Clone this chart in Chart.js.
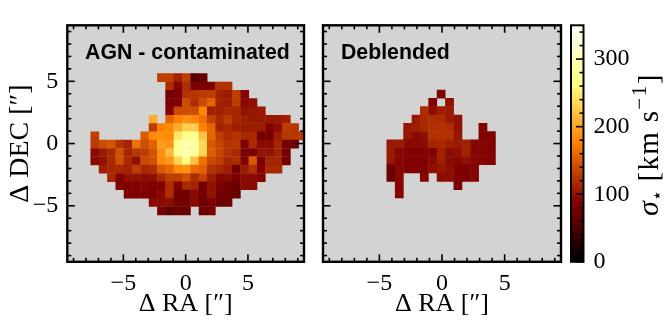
<!DOCTYPE html>
<html>
<head>
<meta charset="utf-8">
<script src="https://cdn.jsdelivr.net/npm/chart.js@4/dist/chart.umd.min.js"></script>
<style>
    html, body { margin: 0; padding: 0; background: #fff; overflow: hidden; }
    canvas { position: absolute; top: 0; }
</style>
</head>
<body>
<canvas id="agnChart" width="314" height="320" style="left:0"></canvas>
<canvas id="deblendedChart" width="252" height="320" style="left:314px"></canvas>
<canvas id="colorbarChart" width="105" height="320" style="left:566px"></canvas>
<script>
const _ = null;

// Spaxel centres in arcsec
const agnRa = [-7.29, -6.62, -5.95, -5.28, -4.62, -3.95, -3.28, -2.61, -1.94, -1.28, -0.61, 0.06, 0.73, 1.40, 2.06, 2.73, 3.40, 4.07, 4.74, 5.40, 6.07, 6.74, 7.41, 8.08, 8.74, 9.41];
const agnDec = [5.29, 4.62, 3.95, 3.29, 2.62, 1.95, 1.28, 0.61, -0.05, -0.72, -1.39, -2.06, -2.73, -3.39, -4.06, -4.73, -5.40];
const deblendedRa = [-4.08, -3.41, -2.74, -2.07, -1.41, -0.74, -0.07, 0.60, 1.27, 1.93, 2.60, 3.27, 3.94];
const deblendedDec = [3.97, 3.31, 2.64, 1.97, 1.30, 0.63, -0.03, -0.70, -1.37, -2.04, -2.71, -3.37, -4.04];

// Stellar velocity dispersion in km/s
const agnSigma = [
    [_, _, _, _, _, _, _, _, 130, 130, 110, 130, 56, 71, _, _, _, _, _, _, _, _, _, _, _, _],
    [_, _, _, _, _, _, _, _, _, 118, 91, 118, 84, 84, 86, 121, 121, _, _, _, _, _, _, _, _, _],
    [_, _, _, _, _, _, _, _, _, 78, 84, 121, 123, 128, 128, 110, 106, 130, 91, _, _, _, _, _, _, _],
    [_, _, _, _, _, _, _, _, _, 86, 86, 140, 118, 138, 155, 110, 108, 128, 94, 98, _, _, _, _, _, _],
    [_, _, _, _, _, _, _, _, _, 91, 138, 140, 140, 180, 108, 108, 115, 113, 100, 103, 104, _, _, _, _, _],
    [_, _, _, _, _, _, _, 205, _, 155, 175, 185, 178, 165, 132, 115, 128, 113, 108, 104, 104, 104, 104, 109, _, _],
    [_, _, _, _, _, _, _, 128, 175, 182, 205, 228, 228, 175, 158, 110, 115, 108, 106, 106, 106, 88, 96, 128, 125, _],
    [130, _, _, _, _, _, 150, 182, 185, 182, 245, 270, 270, 222, 158, 130, 118, 123, 115, 115, 78, 81, 108, 125, 125, 130],
    [128, 140, 145, 121, 113, 165, 140, 155, 195, 188, 275, 295, 285, 235, 148, 135, 123, 125, 88, 115, 94, 94, 113, 81, 76, _],
    [94, 106, 115, 142, 113, 125, 128, 145, 185, 215, 275, 295, 285, 232, 152, 135, 121, 115, 86, 86, 100, 100, 110, 81, _, _],
    [94, 100, 115, 142, 115, 98, 138, 145, 182, 190, 232, 268, 220, 165, 138, 130, 115, 118, 88, 148, 84, 113, 113, 81, _, _],
    [_, 108, 115, 115, 110, 130, 115, 118, 148, 158, 182, 185, 160, 155, 121, 115, 108, 81, 106, 121, 88, 115, 115, _, _, _],
    [_, _, 115, 88, 100, 100, 96, 98, 115, 130, 130, 142, 118, 135, 108, 91, 94, 84, 96, 94, 91, _, _, _, _, _],
    [_, _, _, 88, 88, 88, 91, 86, 88, 118, 88, 115, 110, 78, 100, 88, 78, 74, 94, 94, _, _, _, _, _, _],
    [_, _, _, _, 88, 84, 88, 84, 94, 118, 76, 78, 94, 78, 100, 78, 76, 71, _, _, _, _, _, _, _, _],
    [_, _, _, _, _, _, _, 94, 94, 96, 78, 78, 94, 74, 88, 76, 76, _, _, _, _, _, _, _, _, _],
    [_, _, _, _, _, _, _, _, 84, 66, 76, 71, _, 74, 82, _, _, _, _, _, _, _, _, _, _, _]
];
const deblendedSigma = [
    [_, _, _, _, _, _, 88, _, _, _, _, _, _],
    [_, _, _, _, _, 88, _, 98, _, _, _, _, _],
    [_, _, _, _, 118, 96, 108, 104, _, _, _, _, _],
    [_, _, _, 104, 115, 118, 118, 104, 100, _, _, _, _],
    [_, _, 103, 108, 115, 121, 121, 118, 100, _, _, 88, _],
    [_, _, 103, 94, 98, 121, 121, 121, 103, _, _, 88, 88],
    [106, 106, 94, 94, 96, 113, 115, 108, 106, 110, 91, 91, 88],
    [106, 92, 88, 88, 88, 88, 110, 94, 98, 110, 91, 91, 88],
    [103, 92, 88, 88, 88, 94, 108, 94, 92, 98, 91, 91, 88],
    [74, 92, 88, 86, 88, 98, 102, 98, 86, 86, 90, _, _],
    [74, 92, _, _, 90, _, 96, 96, 86, 86, 90, _, _],
    [_, 92, _, _, _, _, _, _, 86, _, _, _, _],
    [_, 92, _, _, _, _, _, _, _, _, _, _, _]
];

// Axis settings
const skyTicks = [-9, -8, -7, -6, -5, -4, -3, -2, -1, 0, 1, 2, 3, 4, 5, 6, 7, 8, 9];
const skyMin = -9.5;
const skyMax = 9.5;
const sigmaMin = 0;
const sigmaMax = 350;
const spaxelSize = 0.668;

// afmhot colour map nodes
const cmapPositions = [0, 0.25, 0.5, 0.75, 1];
const cmapColors = [[0, 0, 0], [128, 0, 0], [255, 128, 0], [255, 255, 128], [255, 255, 255]];

const serifFont = '"Liberation Serif", serif';
const tickFont = { family: serifFont, size: 24 };

function sigmaColor(value) {
    const t = Math.min(1, Math.max(0, (value - sigmaMin) / (sigmaMax - sigmaMin)));
    let i = 0;
    while (i < cmapPositions.length - 2 && t > cmapPositions[i + 1]) i++;
    const f = (t - cmapPositions[i]) / (cmapPositions[i + 1] - cmapPositions[i]);
    const c = cmapColors[i].map((v, k) => Math.round(v + (cmapColors[i + 1][k] - v) * f));
    return `rgb(${c[0]}, ${c[1]}, ${c[2]})`;
}

function buildPoints(raBins, decBins, matrix) {
    const points = [];
    matrix.forEach((row, j) => {
        row.forEach((value, i) => {
            if (value !== null) points.push({ x: raBins[i], y: decBins[j], v: value });
        });
    });
    return points;
}

function fiveLabels(value) {
    if (value % 5 !== 0) return '';
    return value < 0 ? `\u2212${Math.abs(value)}` : `${value}`;
}

// Inward tick marks along one axis edge
function drawTicks(ctx, scale, edges, majorEvery, majorLen, minorLen) {
    scale.ticks.forEach(tick => {
        const pos = scale.getPixelForValue(tick.value);
        const len = tick.value % majorEvery === 0 ? majorLen : minorLen;
        edges.forEach(([from, dir]) => {
            ctx.beginPath();
            if (scale.isHorizontal()) {
                ctx.moveTo(pos, from);
                ctx.lineTo(pos, from + dir * len);
            } else {
                ctx.moveTo(from, pos);
                ctx.lineTo(from + dir * len, pos);
            }
            ctx.stroke();
        });
    });
}

// Grey background behind the spaxels
const panelBackground = {
    id: 'panelBackground',
    beforeDatasetsDraw(chart) {
        const { ctx, chartArea: a } = chart;
        ctx.save();
        ctx.fillStyle = '#d3d3d3';
        ctx.fillRect(a.left, a.top, a.right - a.left, a.bottom - a.top);
        ctx.restore();
    }
};

// Frame, ticks and the label inside each map panel
const panelFrame = {
    id: 'panelFrame',
    afterDatasetsDraw(chart, args, opts) {
        const { ctx, chartArea: a, scales } = chart;
        ctx.save();
        ctx.strokeStyle = '#000';
        ctx.lineWidth = 1.6;
        drawTicks(ctx, scales.x, [[a.bottom, -1], [a.top, 1]], 5, 7.5, 4);
        drawTicks(ctx, scales.y, [[a.left, 1], [a.right, -1]], 5, 7.5, 4);
        ctx.lineWidth = 2.4;
        ctx.strokeRect(a.left, a.top, a.right - a.left, a.bottom - a.top);
        ctx.fillStyle = '#000';
        ctx.font = 'bold 21.3px "Liberation Sans", sans-serif';
        ctx.textBaseline = 'middle';
        ctx.fillText(opts.text, scales.x.getPixelForValue(opts.x), scales.y.getPixelForValue(opts.y));
        ctx.restore();
    }
};

// Frame, ticks and rotated title of the colour bar
const colorbarFrame = {
    id: 'colorbarFrame',
    afterDatasetsDraw(chart) {
        const { ctx, chartArea: a, scales } = chart;
        ctx.save();
        ctx.strokeStyle = '#000';
        ctx.lineWidth = 1.6;
        drawTicks(ctx, scales.y, [[a.right, -1]], 100, 7.5, 4);
        ctx.lineWidth = 2;
        ctx.strokeRect(a.left, a.top, a.right - a.left, a.bottom - a.top);

        const runs = [
            { text: '\u03c3', font: `italic 30px ${serifFont}`, dy: 0, gap: '0px' },
            { text: '\u22c6', font: '18px "DejaVu Sans", sans-serif', dy: 5, gap: '0px' },
            { text: ' [km s', font: `29px ${serifFont}`, dy: 0, gap: '1.3px' },
            { text: '\u22121', font: `21px ${serifFont}`, dy: -12, gap: '1.5px' },
            { text: ']', font: `29px ${serifFont}`, dy: 0, gap: '0px' }
        ];
        ctx.translate(92, 216);
        ctx.rotate(-Math.PI / 2);
        ctx.fillStyle = '#000';
        ctx.textBaseline = 'alphabetic';
        let offset = 0;
        runs.forEach(run => {
            ctx.font = run.font;
            ctx.letterSpacing = run.gap;
            ctx.fillText(run.text, offset, run.dy);
            offset += ctx.measureText(run.text).width;
        });
        ctx.restore();
    }
};

function skyAxis(title, titleSize, labelCallback, forced, tickPadding, titlePadding) {
    return {
        type: 'linear',
        min: skyMin,
        max: skyMax,
        afterFit: forced,
        afterBuildTicks: s => { s.ticks = skyTicks.map(value => ({ value })); },
        grid: { display: false, drawTicks: false },
        border: { display: false },
        ticks: {
            autoSkip: false,
            maxRotation: 0,
            color: '#000',
            font: tickFont,
            padding: tickPadding,
            callback: labelCallback
        },
        title: {
            display: title !== '',
            text: title,
            color: '#000',
            font: { family: serifFont, size: titleSize },
            padding: titlePadding
        }
    };
}

function renderPanel(canvasId, raBins, decBins, matrix, label, yTitle, yCallback, padding, yWidth) {
    return new Chart(document.getElementById(canvasId), {
        type: 'scatter',
        data: {
            datasets: [{
                data: buildPoints(raBins, decBins, matrix),
                pointStyle: 'rect',
                borderWidth: 0,
                pointBorderWidth: 0,
                pointBackgroundColor: ctx => sigmaColor(ctx.raw.v),
                // Chart.js draws a rect of side sqrt(2) * radius
                pointRadius: ctx => {
                    const s = ctx.chart.scales.x;
                    return (Math.abs(s.getPixelForValue(spaxelSize) - s.getPixelForValue(0)) + 0.4) / Math.SQRT2;
                }
            }]
        },
        options: {
            responsive: false,
            animation: false,
            events: [],
            layout: { autoPadding: false, padding },
            plugins: {
                legend: { display: false },
                tooltip: { enabled: false },
                panelFrame: label
            },
            scales: {
                x: skyAxis('\u0394 RA [\u2033]', 26, fiveLabels, s => { s.height = 58.2; }, 8, { top: 0, bottom: 0 }),
                y: skyAxis(yTitle, 28, yCallback, s => { s.width = yWidth; }, 9, { top: 4, bottom: 0 })
            }
        },
        plugins: [panelBackground, panelFrame]
    });
}

function renderColorbar() {
    return new Chart(document.getElementById('colorbarChart'), {
        type: 'bar',
        data: {
            labels: ['sigma'],
            datasets: [{
                data: [[sigmaMin, sigmaMax]],
                barPercentage: 1,
                categoryPercentage: 1,
                borderWidth: 0,
                backgroundColor: ctx => {
                    const { chart } = ctx;
                    if (!chart.chartArea) return '#000';
                    const y = chart.scales.y;
                    const grad = chart.ctx.createLinearGradient(0, y.getPixelForValue(sigmaMin), 0, y.getPixelForValue(sigmaMax));
                    cmapPositions.forEach((p, i) => {
                        grad.addColorStop(p, `rgb(${cmapColors[i].join(', ')})`);
                    });
                    return grad;
                }
            }]
        },
        options: {
            responsive: false,
            animation: false,
            events: [],
            layout: { autoPadding: false, padding: { left: 5, right: 0, top: 25.3, bottom: 58.2 } },
            plugins: { legend: { display: false }, tooltip: { enabled: false } },
            scales: {
                x: { display: false },
                y: {
                    position: 'right',
                    min: sigmaMin,
                    max: sigmaMax,
                    afterFit: s => { s.width = 87.5; },
                    grid: { display: false, drawTicks: false },
                    border: { display: false },
                    ticks: {
                        stepSize: 20,
                        includeBounds: false,
                        autoSkip: false,
                        maxRotation: 0,
                        color: '#000',
                        font: tickFont,
                        padding: 10,
                        callback: value => (value % 100 === 0 ? `${value}` : '')
                    }
                }
            }
        },
        plugins: [colorbarFrame]
    });
}

renderPanel('agnChart', agnRa, agnDec, agnSigma,
    { text: 'AGN - contaminated', x: -8.07, y: 7.3 },
    '\u0394 DEC [\u2033]', fiveLabels,
    { left: 0, right: 10, top: 25.3, bottom: 0 }, 67.3);

renderPanel('deblendedChart', deblendedRa, deblendedDec, deblendedSigma,
    { text: 'Deblended', x: -8.07, y: 7.3 },
    '', () => '',
    { left: 0, right: 5, top: 25.3, bottom: 0 }, 9);

renderColorbar();
</script>
</body>
</html>
